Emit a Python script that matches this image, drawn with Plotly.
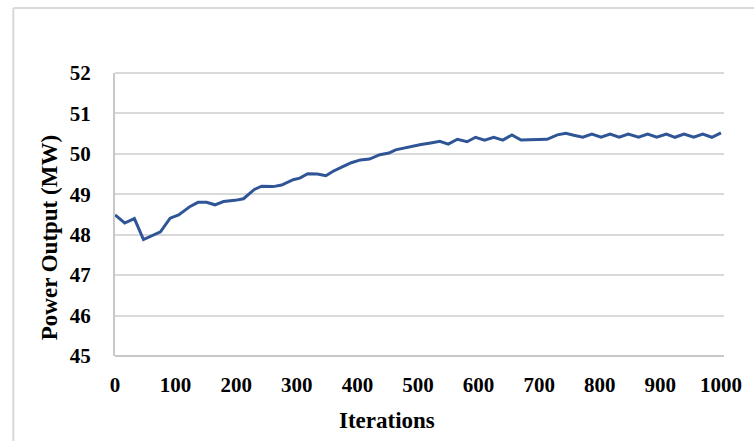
import plotly.graph_objects as go

iterations = [0, 16, 32, 47, 75, 91, 105, 124, 137, 151, 165, 179, 198, 212, 230, 242,
              261, 275, 294, 305, 318, 334, 348, 360, 375, 390, 405, 420, 437, 452, 463,
              478, 490, 505, 521, 536, 550, 565, 581, 595, 610, 625, 640, 655, 670, 713,
              730, 744, 757, 772, 787, 802, 817, 832, 847, 864, 879, 894, 910, 924, 939,
              955, 970, 985, 1000]
power_mw = [48.49, 48.29, 48.40, 47.88, 48.07, 48.41, 48.49, 48.70, 48.80, 48.80, 48.74,
            48.82, 48.85, 48.89, 49.12, 49.20, 49.19, 49.23, 49.36, 49.40, 49.51, 49.50,
            49.46, 49.57, 49.68, 49.78, 49.85, 49.87, 49.98, 50.02, 50.10, 50.15, 50.19,
            50.23, 50.27, 50.31, 50.24, 50.36, 50.30, 50.41, 50.34, 50.41, 50.34, 50.47,
            50.34, 50.36, 50.47, 50.51, 50.46, 50.41, 50.49, 50.41, 50.49, 50.41, 50.49,
            50.41, 50.49, 50.41, 50.49, 50.41, 50.49, 50.41, 50.49, 50.41, 50.52]

x_ticks = [0, 100, 200, 300, 400, 500, 600, 700, 800, 900, 1000]
y_ticks = [45, 46, 47, 48, 49, 50, 51, 52]

font_family = "Liberation Serif"
X_MAX = 1005

# plot area in pixels
L, R, T, B = 115, 726, 73, 356
PW, PH = R - L, B - T

def px_x(p):
    return (p - L) / PW

def px_y(p):
    return (B - p) / PH

fig = go.Figure()
fig.add_trace(go.Scatter(
    x=iterations, y=power_mw, mode="lines",
    line=dict(color="#2F5597", width=3),
    hoverinfo="skip", showlegend=False,
))

fig.update_layout(
    width=754, height=441,
    margin=dict(l=L, r=754 - R, t=T, b=441 - B),
    paper_bgcolor="white", plot_bgcolor="white",
    font=dict(family=font_family, color="black"),
    xaxis=dict(
        range=[0, X_MAX], tickvals=x_ticks, ticktext=[str(v) for v in x_ticks],
        showgrid=False, zeroline=False, showline=False,
        tickfont=dict(family=font_family, size=21, color="black", weight="bold"),
        ticks="outside", ticklen=10, tickcolor="rgba(0,0,0,0)",
    ),
    yaxis=dict(
        range=[y_ticks[0], y_ticks[-1]], tickmode="linear", tick0=y_ticks[0], dtick=1,
        showgrid=True, gridcolor="#d9d9d9", gridwidth=2, zeroline=False,
        showline=True, linecolor="#c8c8c8", linewidth=2,
        tickfont=dict(family=font_family, size=21, color="black", weight="bold"),
        ticks="outside", ticklen=18, tickcolor="rgba(0,0,0,0)",
    ),
    shapes=[
        # top gridline at the upper end of the value axis
        dict(type="line", xref="paper", yref="paper", x0=0, x1=1, y0=1, y1=1,
             line=dict(color="#d9d9d9", width=2)),
        # bottom axis line
        dict(type="line", xref="paper", yref="paper", x0=0, x1=1, y0=0, y1=0,
             line=dict(color="#c8c8c8", width=2)),
        # chart-area border (top and left)
        dict(type="line", xref="paper", yref="paper", x0=px_x(13), x1=px_x(760),
             y0=px_y(8), y1=px_y(8), line=dict(color="#d9d9d9", width=2)),
        dict(type="line", xref="paper", yref="paper", x0=px_x(13), x1=px_x(13),
             y0=px_y(450), y1=px_y(8), line=dict(color="#d9d9d9", width=2)),
    ],
    annotations=[
        dict(text="Iterations", xref="paper", yref="paper", x=px_x(388), y=px_y(420),
             showarrow=False, xanchor="center", yanchor="middle",
             font=dict(family=font_family, size=23, color="black", weight="bold")),
        dict(text="Power Output (MW)", xref="paper", yref="paper", x=px_x(50), y=px_y(238),
             showarrow=False, xanchor="center", yanchor="middle", textangle=-90,
             font=dict(family=font_family, size=23, color="black", weight="bold")),
    ],
)

fig.write_html("out.html")
